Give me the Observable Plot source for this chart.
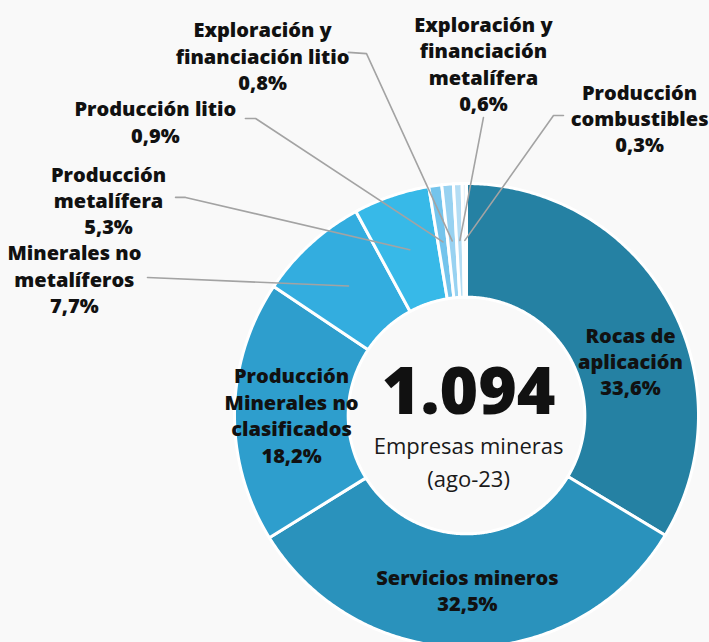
<!DOCTYPE html>
<html>
<head>
<meta charset="utf-8">
<script src="https://cdn.jsdelivr.net/npm/d3@7"></script>
<script src="https://cdn.jsdelivr.net/npm/@observablehq/plot@0.6"></script>
<style>
  html, body { margin: 0; padding: 0; background: #f9f9f9; }
  #chart svg { display: block; }
</style>
</head>
<body>
<div id="chart"></div>
<script>
// ---- Data ----
const categories = [
  "Rocas de aplicación",
  "Servicios mineros",
  "Producción Minerales no clasificados",
  "Minerales no metalíferos",
  "Producción metalífera",
  "Producción litio",
  "Exploración y financiación litio",
  "Exploración y financiación metalífera",
  "Producción combustibles"
];
const shares = [33.6, 32.5, 18.2, 7.7, 5.3, 0.9, 0.8, 0.6, 0.3];
const labelLines = [
  "Rocas de\naplicación",
  "Servicios mineros",
  "Producción\nMinerales no\nclasificados",
  "Minerales no\nmetalíferos",
  "Producción\nmetalífera",
  "Producción litio",
  "Exploración y\nfinanciación litio",
  "Exploración y\nfinanciación\nmetalífera",
  "Producción\ncombustibles"
];
const totalCompanies = "1.094";
const centerLines = ["Empresas mineras", "(ago-23)"];

// ---- Styles ----
const palette = ["#2581a3", "#2a92bc", "#2e9ecd", "#33addf", "#37b9e8", "#74c4ec", "#98d2f1", "#b4ddf4", "#e6f3fb"];

// ---- Layout (in units of the outer radius, donut centre at 0,0) ----
const innerR = 0.51, outerR = 1, leaderR = 0.755;
const labelLayout = [
  {x: 0.707, y: 0.237},
  {x: 0.004, y: -0.750},
  {x: -0.754, y: 0.004},
  {x: -1.690, y: 0.591, leader: [[-1.375, 0.595]]},
  {x: -1.543, y: 0.931, leader: [[-1.254, 0.940], [-1.211, 0.940]]},
  {x: -1.341, y: 1.269, leader: [[-0.953, 1.280], [-0.909, 1.280]]},
  {x: -0.879, y: 1.552, leader: [[-0.509, 1.565], [-0.431, 1.560]]},
  {x: 0.073, y: 1.519, leader: [[0.073, 1.284]]},
  {x: 0.746, y: 1.284, leader: [[0.418, 1.293], [0.375, 1.293]]}
];

const fmt = v => v.toFixed(1).replace(".", ",") + "%";
const arcs = d3.pie().sort(null).value(d => d)(shares);
const polar = (r, a) => [r * Math.sin(a), r * Math.cos(a)];

const slicePts = [];
arcs.forEach((a, i) => {
  const n = Math.max(2, Math.ceil((a.endAngle - a.startAngle) / (Math.PI / 360)));
  for (let j = 0; j <= n; j++) {
    const t = a.startAngle + (a.endAngle - a.startAngle) * j / n;
    const [x, y] = polar(outerR, t);
    slicePts.push({x, y, k: i, color: palette[i]});
  }
  for (let j = n; j >= 0; j--) {
    const t = a.startAngle + (a.endAngle - a.startAngle) * j / n;
    const [x, y] = polar(innerR, t);
    slicePts.push({x, y, k: i, color: palette[i]});
  }
});

const leaderPts = [];
labelLayout.forEach((L, i) => {
  if (!L.leader) return;
  L.leader.forEach(([x, y]) => leaderPts.push({x, y, k: i}));
  const mid = (arcs[i].startAngle + arcs[i].endAngle) / 2;
  const [ex, ey] = polar(leaderR, mid);
  leaderPts.push({x: ex, y: ey, k: i});
});

const labels = categories.map((c, i) => ({
  x: labelLayout[i].x, y: labelLayout[i].y,
  text: labelLines[i] + "\n" + fmt(shares[i])
}));

const chart = Plot.plot({
  width: 709,
  height: 642,
  margin: 0,
  x: {domain: [-466 / 232, 243 / 232], axis: null},
  y: {domain: [-227 / 232, 415 / 232], axis: null},
  color: {type: "identity"},
  style: {background: "#f9f9f9", fontFamily: "'Open Sans', sans-serif", color: "#111"},
  marks: [
    Plot.line(slicePts, {x: "x", y: "y", z: "k", fill: "color", stroke: "white", strokeWidth: 3, curve: "linear-closed"}),
    Plot.line(leaderPts, {x: "x", y: "y", z: "k", stroke: "#a3a3a3", strokeWidth: 1.6}),
    Plot.text(labels, {x: "x", y: "y", text: "text", fontSize: 20, fontWeight: 800, lineHeight: 1.32, fill: "#111", textAnchor: "middle", lineAnchor: "middle"}),
    Plot.text([totalCompanies], {x: () => 0.009, y: () => 0.099, text: d => d, fontSize: 66, fontWeight: 800, fill: "#111", textAnchor: "middle", lineAnchor: "middle"}),
    Plot.text(centerLines, {x: () => 0.009, y: (d, i) => [-0.134, -0.276][i], text: d => d, fontSize: 22, fill: "#1a1a1a", textAnchor: "middle", lineAnchor: "middle"})
  ]
});
document.getElementById("chart").appendChild(chart);
</script>
</body>
</html>
